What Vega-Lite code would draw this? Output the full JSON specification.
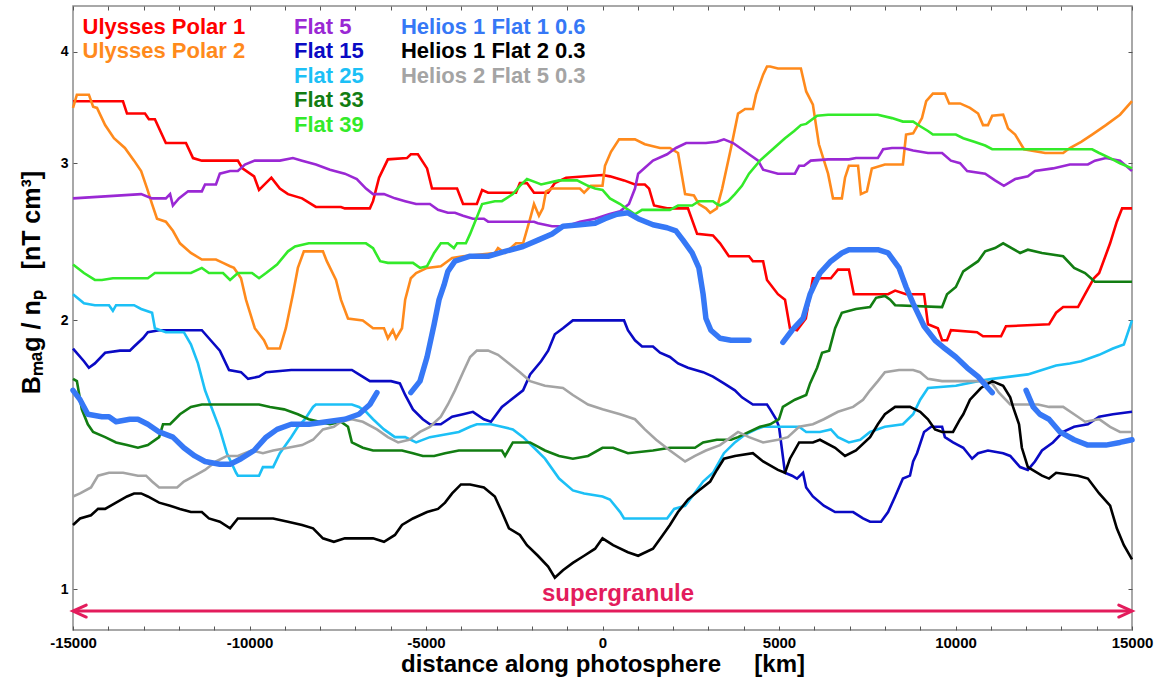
{
  "$schema": "https://vega.github.io/schema/vega-lite/v6.json",
  "width": 1059,
  "height": 624,
  "autosize": {"type": "none"},
  "padding": {"left": 73, "top": 6, "right": 34, "bottom": 52},
  "background": "white",
  "config": {"font": "Liberation Sans", "view": {"stroke": "#8c8c8c", "strokeWidth": 1.5}},
  "datasets": {
    "lines": [
      {"s":"Ulysses Polar 1","x":-15000,"v":3.52},{"s":"Ulysses Polar 1","x":-13584,"v":3.52},{"s":"Ulysses Polar 1","x":-13470,"v":3.41},{"s":"Ulysses Polar 1","x":-12960,"v":3.41},{"s":"Ulysses Polar 1","x":-12850,"v":3.36},{"s":"Ulysses Polar 1","x":-12680,"v":3.36},{"s":"Ulysses Polar 1","x":-12370,"v":3.16},{"s":"Ulysses Polar 1","x":-11800,"v":3.16},{"s":"Ulysses Polar 1","x":-11600,"v":3.04},{"s":"Ulysses Polar 1","x":-11350,"v":3.02},{"s":"Ulysses Polar 1","x":-10330,"v":3.02},{"s":"Ulysses Polar 1","x":-10200,"v":2.96},{"s":"Ulysses Polar 1","x":-9870,"v":2.90},{"s":"Ulysses Polar 1","x":-9730,"v":2.80},{"s":"Ulysses Polar 1","x":-9380,"v":2.89},{"s":"Ulysses Polar 1","x":-9140,"v":2.81},{"s":"Ulysses Polar 1","x":-8910,"v":2.77},{"s":"Ulysses Polar 1","x":-8510,"v":2.74},{"s":"Ulysses Polar 1","x":-8120,"v":2.68},{"s":"Ulysses Polar 1","x":-7410,"v":2.68},{"s":"Ulysses Polar 1","x":-7300,"v":2.67},{"s":"Ulysses Polar 1","x":-6590,"v":2.67},{"s":"Ulysses Polar 1","x":-6500,"v":2.72},{"s":"Ulysses Polar 1","x":-6330,"v":2.89},{"s":"Ulysses Polar 1","x":-6080,"v":3.03},{"s":"Ulysses Polar 1","x":-5540,"v":3.04},{"s":"Ulysses Polar 1","x":-5430,"v":3.07},{"s":"Ulysses Polar 1","x":-5230,"v":3.07},{"s":"Ulysses Polar 1","x":-4970,"v":2.96},{"s":"Ulysses Polar 1","x":-4830,"v":2.81},{"s":"Ulysses Polar 1","x":-4120,"v":2.81},{"s":"Ulysses Polar 1","x":-3950,"v":2.70},{"s":"Ulysses Polar 1","x":-3560,"v":2.70},{"s":"Ulysses Polar 1","x":-3410,"v":2.80},{"s":"Ulysses Polar 1","x":-3240,"v":2.78},{"s":"Ulysses Polar 1","x":-2450,"v":2.78},{"s":"Ulysses Polar 1","x":-2340,"v":2.85},{"s":"Ulysses Polar 1","x":-2140,"v":2.85},{"s":"Ulysses Polar 1","x":-1940,"v":2.78},{"s":"Ulysses Polar 1","x":-1540,"v":2.78},{"s":"Ulysses Polar 1","x":-1350,"v":2.85},{"s":"Ulysses Polar 1","x":-1030,"v":2.89},{"s":"Ulysses Polar 1","x":0,"v":2.91},{"s":"Ulysses Polar 1","x":213,"v":2.90},{"s":"Ulysses Polar 1","x":610,"v":2.87},{"s":"Ulysses Polar 1","x":920,"v":2.84},{"s":"Ulysses Polar 1","x":1200,"v":2.84},{"s":"Ulysses Polar 1","x":1320,"v":2.81},{"s":"Ulysses Polar 1","x":1460,"v":2.69},{"s":"Ulysses Polar 1","x":1830,"v":2.67},{"s":"Ulysses Polar 1","x":2420,"v":2.67},{"s":"Ulysses Polar 1","x":2680,"v":2.50},{"s":"Ulysses Polar 1","x":3130,"v":2.49},{"s":"Ulysses Polar 1","x":3330,"v":2.44},{"s":"Ulysses Polar 1","x":3580,"v":2.36},{"s":"Ulysses Polar 1","x":4150,"v":2.36},{"s":"Ulysses Polar 1","x":4260,"v":2.33},{"s":"Ulysses Polar 1","x":4550,"v":2.33},{"s":"Ulysses Polar 1","x":4660,"v":2.22},{"s":"Ulysses Polar 1","x":4970,"v":2.14},{"s":"Ulysses Polar 1","x":5170,"v":2.11},{"s":"Ulysses Polar 1","x":5310,"v":1.96},{"s":"Ulysses Polar 1","x":5510,"v":1.95},{"s":"Ulysses Polar 1","x":5760,"v":2.01},{"s":"Ulysses Polar 1","x":5960,"v":2.23},{"s":"Ulysses Polar 1","x":6470,"v":2.23},{"s":"Ulysses Polar 1","x":6670,"v":2.28},{"s":"Ulysses Polar 1","x":6980,"v":2.28},{"s":"Ulysses Polar 1","x":7120,"v":2.14},{"s":"Ulysses Polar 1","x":8090,"v":2.14},{"s":"Ulysses Polar 1","x":8290,"v":2.16},{"s":"Ulysses Polar 1","x":8600,"v":2.14},{"s":"Ulysses Polar 1","x":9110,"v":2.14},{"s":"Ulysses Polar 1","x":9220,"v":1.98},{"s":"Ulysses Polar 1","x":9500,"v":1.96},{"s":"Ulysses Polar 1","x":9620,"v":1.90},{"s":"Ulysses Polar 1","x":9760,"v":1.90},{"s":"Ulysses Polar 1","x":9870,"v":1.95},{"s":"Ulysses Polar 1","x":10610,"v":1.94},{"s":"Ulysses Polar 1","x":10780,"v":1.92},{"s":"Ulysses Polar 1","x":11290,"v":1.92},{"s":"Ulysses Polar 1","x":11430,"v":1.97},{"s":"Ulysses Polar 1","x":12650,"v":1.98},{"s":"Ulysses Polar 1","x":12850,"v":2.04},{"s":"Ulysses Polar 1","x":13050,"v":2.07},{"s":"Ulysses Polar 1","x":13470,"v":2.07},{"s":"Ulysses Polar 1","x":13670,"v":2.14},{"s":"Ulysses Polar 1","x":13920,"v":2.23},{"s":"Ulysses Polar 1","x":14070,"v":2.26},{"s":"Ulysses Polar 1","x":14380,"v":2.44},{"s":"Ulysses Polar 1","x":14570,"v":2.58},{"s":"Ulysses Polar 1","x":14720,"v":2.67},{"s":"Ulysses Polar 1","x":15000,"v":2.67},

      {"s":"Ulysses Polar 2","x":-15000,"v":3.46},{"s":"Ulysses Polar 2","x":-14890,"v":3.58},{"s":"Ulysses Polar 2","x":-14550,"v":3.58},{"s":"Ulysses Polar 2","x":-14430,"v":3.47},{"s":"Ulysses Polar 2","x":-14320,"v":3.46},{"s":"Ulysses Polar 2","x":-14090,"v":3.31},{"s":"Ulysses Polar 2","x":-13840,"v":3.20},{"s":"Ulysses Polar 2","x":-13530,"v":3.12},{"s":"Ulysses Polar 2","x":-13270,"v":3.02},{"s":"Ulysses Polar 2","x":-13070,"v":2.94},{"s":"Ulysses Polar 2","x":-12900,"v":2.81},{"s":"Ulysses Polar 2","x":-12760,"v":2.70},{"s":"Ulysses Polar 2","x":-12620,"v":2.60},{"s":"Ulysses Polar 2","x":-12370,"v":2.58},{"s":"Ulysses Polar 2","x":-12170,"v":2.52},{"s":"Ulysses Polar 2","x":-11970,"v":2.44},{"s":"Ulysses Polar 2","x":-11660,"v":2.38},{"s":"Ulysses Polar 2","x":-11350,"v":2.34},{"s":"Ulysses Polar 2","x":-10950,"v":2.34},{"s":"Ulysses Polar 2","x":-10750,"v":2.32},{"s":"Ulysses Polar 2","x":-10550,"v":2.30},{"s":"Ulysses Polar 2","x":-10440,"v":2.29},{"s":"Ulysses Polar 2","x":-10240,"v":2.23},{"s":"Ulysses Polar 2","x":-10100,"v":2.11},{"s":"Ulysses Polar 2","x":-9850,"v":1.96},{"s":"Ulysses Polar 2","x":-9590,"v":1.90},{"s":"Ulysses Polar 2","x":-9480,"v":1.86},{"s":"Ulysses Polar 2","x":-9140,"v":1.86},{"s":"Ulysses Polar 2","x":-8970,"v":1.96},{"s":"Ulysses Polar 2","x":-8770,"v":2.14},{"s":"Ulysses Polar 2","x":-8630,"v":2.29},{"s":"Ulysses Polar 2","x":-8460,"v":2.39},{"s":"Ulysses Polar 2","x":-7920,"v":2.39},{"s":"Ulysses Polar 2","x":-7810,"v":2.33},{"s":"Ulysses Polar 2","x":-7550,"v":2.22},{"s":"Ulysses Polar 2","x":-7410,"v":2.11},{"s":"Ulysses Polar 2","x":-7210,"v":2.01},{"s":"Ulysses Polar 2","x":-6790,"v":2.00},{"s":"Ulysses Polar 2","x":-6500,"v":1.96},{"s":"Ulysses Polar 2","x":-6190,"v":1.96},{"s":"Ulysses Polar 2","x":-6080,"v":1.91},{"s":"Ulysses Polar 2","x":-5940,"v":1.95},{"s":"Ulysses Polar 2","x":-5850,"v":1.91},{"s":"Ulysses Polar 2","x":-5680,"v":1.96},{"s":"Ulysses Polar 2","x":-5590,"v":2.11},{"s":"Ulysses Polar 2","x":-5430,"v":2.23},{"s":"Ulysses Polar 2","x":-5280,"v":2.26},{"s":"Ulysses Polar 2","x":-4970,"v":2.29},{"s":"Ulysses Polar 2","x":-4580,"v":2.30},{"s":"Ulysses Polar 2","x":-4260,"v":2.35},{"s":"Ulysses Polar 2","x":-3950,"v":2.36},{"s":"Ulysses Polar 2","x":-3050,"v":2.38},{"s":"Ulysses Polar 2","x":-2960,"v":2.41},{"s":"Ulysses Polar 2","x":-2760,"v":2.38},{"s":"Ulysses Polar 2","x":-2450,"v":2.44},{"s":"Ulysses Polar 2","x":-2250,"v":2.44},{"s":"Ulysses Polar 2","x":-2050,"v":2.60},{"s":"Ulysses Polar 2","x":-1940,"v":2.70},{"s":"Ulysses Polar 2","x":-1800,"v":2.62},{"s":"Ulysses Polar 2","x":-1690,"v":2.67},{"s":"Ulysses Polar 2","x":-1600,"v":2.79},{"s":"Ulysses Polar 2","x":-1430,"v":2.81},{"s":"Ulysses Polar 2","x":-640,"v":2.81},{"s":"Ulysses Polar 2","x":-520,"v":2.78},{"s":"Ulysses Polar 2","x":-330,"v":2.83},{"s":"Ulysses Polar 2","x":0,"v":2.83},{"s":"Ulysses Polar 2","x":70,"v":2.98},{"s":"Ulysses Polar 2","x":240,"v":3.09},{"s":"Ulysses Polar 2","x":470,"v":3.19},{"s":"Ulysses Polar 2","x":920,"v":3.19},{"s":"Ulysses Polar 2","x":1200,"v":3.15},{"s":"Ulysses Polar 2","x":1630,"v":3.12},{"s":"Ulysses Polar 2","x":1910,"v":3.12},{"s":"Ulysses Polar 2","x":2140,"v":3.08},{"s":"Ulysses Polar 2","x":2340,"v":2.77},{"s":"Ulysses Polar 2","x":2590,"v":2.76},{"s":"Ulysses Polar 2","x":2730,"v":2.70},{"s":"Ulysses Polar 2","x":2930,"v":2.67},{"s":"Ulysses Polar 2","x":3050,"v":2.64},{"s":"Ulysses Polar 2","x":3240,"v":2.67},{"s":"Ulysses Polar 2","x":3390,"v":2.81},{"s":"Ulysses Polar 2","x":3640,"v":3.12},{"s":"Ulysses Polar 2","x":3840,"v":3.41},{"s":"Ulysses Polar 2","x":4040,"v":3.45},{"s":"Ulysses Polar 2","x":4260,"v":3.45},{"s":"Ulysses Polar 2","x":4350,"v":3.58},{"s":"Ulysses Polar 2","x":4550,"v":3.77},{"s":"Ulysses Polar 2","x":4660,"v":3.85},{"s":"Ulysses Polar 2","x":4750,"v":3.85},{"s":"Ulysses Polar 2","x":4970,"v":3.83},{"s":"Ulysses Polar 2","x":5620,"v":3.83},{"s":"Ulysses Polar 2","x":5770,"v":3.61},{"s":"Ulysses Polar 2","x":5960,"v":3.49},{"s":"Ulysses Polar 2","x":6130,"v":3.15},{"s":"Ulysses Polar 2","x":6390,"v":2.92},{"s":"Ulysses Polar 2","x":6530,"v":2.74},{"s":"Ulysses Polar 2","x":6780,"v":2.74},{"s":"Ulysses Polar 2","x":6870,"v":2.89},{"s":"Ulysses Polar 2","x":6980,"v":2.98},{"s":"Ulysses Polar 2","x":7240,"v":2.98},{"s":"Ulysses Polar 2","x":7320,"v":2.77},{"s":"Ulysses Polar 2","x":7490,"v":2.79},{"s":"Ulysses Polar 2","x":7630,"v":2.96},{"s":"Ulysses Polar 2","x":8000,"v":2.99},{"s":"Ulysses Polar 2","x":8510,"v":2.99},{"s":"Ulysses Polar 2","x":8600,"v":3.23},{"s":"Ulysses Polar 2","x":8800,"v":3.24},{"s":"Ulysses Polar 2","x":9050,"v":3.37},{"s":"Ulysses Polar 2","x":9170,"v":3.52},{"s":"Ulysses Polar 2","x":9360,"v":3.59},{"s":"Ulysses Polar 2","x":9700,"v":3.59},{"s":"Ulysses Polar 2","x":9820,"v":3.50},{"s":"Ulysses Polar 2","x":10130,"v":3.50},{"s":"Ulysses Polar 2","x":10410,"v":3.46},{"s":"Ulysses Polar 2","x":10640,"v":3.41},{"s":"Ulysses Polar 2","x":10780,"v":3.31},{"s":"Ulysses Polar 2","x":10920,"v":3.31},{"s":"Ulysses Polar 2","x":11040,"v":3.39},{"s":"Ulysses Polar 2","x":11350,"v":3.40},{"s":"Ulysses Polar 2","x":11490,"v":3.28},{"s":"Ulysses Polar 2","x":11690,"v":3.23},{"s":"Ulysses Polar 2","x":11940,"v":3.11},{"s":"Ulysses Polar 2","x":12540,"v":3.08},{"s":"Ulysses Polar 2","x":13050,"v":3.08},{"s":"Ulysses Polar 2","x":13240,"v":3.12},{"s":"Ulysses Polar 2","x":13560,"v":3.17},{"s":"Ulysses Polar 2","x":13870,"v":3.23},{"s":"Ulysses Polar 2","x":14260,"v":3.31},{"s":"Ulysses Polar 2","x":14660,"v":3.40},{"s":"Ulysses Polar 2","x":15000,"v":3.52},

      {"s":"Flat 5","x":-15000,"v":2.74},{"s":"Flat 5","x":-13070,"v":2.77},{"s":"Flat 5","x":-12760,"v":2.74},{"s":"Flat 5","x":-12370,"v":2.74},{"s":"Flat 5","x":-12250,"v":2.77},{"s":"Flat 5","x":-12170,"v":2.69},{"s":"Flat 5","x":-12000,"v":2.74},{"s":"Flat 5","x":-11740,"v":2.79},{"s":"Flat 5","x":-11350,"v":2.79},{"s":"Flat 5","x":-11260,"v":2.84},{"s":"Flat 5","x":-10950,"v":2.84},{"s":"Flat 5","x":-10840,"v":2.92},{"s":"Flat 5","x":-10550,"v":2.94},{"s":"Flat 5","x":-10330,"v":2.94},{"s":"Flat 5","x":-10130,"v":2.99},{"s":"Flat 5","x":-9850,"v":3.02},{"s":"Flat 5","x":-9140,"v":3.02},{"s":"Flat 5","x":-8770,"v":3.04},{"s":"Flat 5","x":-8510,"v":3.02},{"s":"Flat 5","x":-8120,"v":2.99},{"s":"Flat 5","x":-7720,"v":2.95},{"s":"Flat 5","x":-7300,"v":2.92},{"s":"Flat 5","x":-6960,"v":2.88},{"s":"Flat 5","x":-6700,"v":2.81},{"s":"Flat 5","x":-6500,"v":2.77},{"s":"Flat 5","x":-6190,"v":2.77},{"s":"Flat 5","x":-5880,"v":2.74},{"s":"Flat 5","x":-5590,"v":2.72},{"s":"Flat 5","x":-5280,"v":2.70},{"s":"Flat 5","x":-4890,"v":2.70},{"s":"Flat 5","x":-4660,"v":2.66},{"s":"Flat 5","x":-4380,"v":2.64},{"s":"Flat 5","x":-4180,"v":2.64},{"s":"Flat 5","x":-3950,"v":2.62},{"s":"Flat 5","x":-3670,"v":2.60},{"s":"Flat 5","x":-3360,"v":2.60},{"s":"Flat 5","x":-3240,"v":2.58},{"s":"Flat 5","x":-1940,"v":2.58},{"s":"Flat 5","x":-1830,"v":2.57},{"s":"Flat 5","x":-1430,"v":2.55},{"s":"Flat 5","x":-1030,"v":2.55},{"s":"Flat 5","x":-640,"v":2.58},{"s":"Flat 5","x":-210,"v":2.60},{"s":"Flat 5","x":180,"v":2.63},{"s":"Flat 5","x":500,"v":2.65},{"s":"Flat 5","x":750,"v":2.70},{"s":"Flat 5","x":920,"v":2.81},{"s":"Flat 5","x":1010,"v":2.92},{"s":"Flat 5","x":1430,"v":3.02},{"s":"Flat 5","x":1830,"v":3.07},{"s":"Flat 5","x":2080,"v":3.12},{"s":"Flat 5","x":2370,"v":3.16},{"s":"Flat 5","x":2930,"v":3.16},{"s":"Flat 5","x":3240,"v":3.17},{"s":"Flat 5","x":3440,"v":3.19},{"s":"Flat 5","x":3700,"v":3.16},{"s":"Flat 5","x":3950,"v":3.11},{"s":"Flat 5","x":4150,"v":3.07},{"s":"Flat 5","x":4410,"v":3.02},{"s":"Flat 5","x":4550,"v":2.95},{"s":"Flat 5","x":4970,"v":2.92},{"s":"Flat 5","x":5450,"v":2.92},{"s":"Flat 5","x":5570,"v":2.98},{"s":"Flat 5","x":5710,"v":2.98},{"s":"Flat 5","x":5900,"v":3.02},{"s":"Flat 5","x":6390,"v":3.03},{"s":"Flat 5","x":6980,"v":3.03},{"s":"Flat 5","x":7180,"v":3.04},{"s":"Flat 5","x":7800,"v":3.04},{"s":"Flat 5","x":7950,"v":3.11},{"s":"Flat 5","x":8200,"v":3.12},{"s":"Flat 5","x":8510,"v":3.12},{"s":"Flat 5","x":8800,"v":3.10},{"s":"Flat 5","x":9220,"v":3.08},{"s":"Flat 5","x":9620,"v":3.08},{"s":"Flat 5","x":9870,"v":3.02},{"s":"Flat 5","x":10130,"v":3.00},{"s":"Flat 5","x":10330,"v":2.94},{"s":"Flat 5","x":10840,"v":2.92},{"s":"Flat 5","x":11120,"v":2.87},{"s":"Flat 5","x":11370,"v":2.83},{"s":"Flat 5","x":11690,"v":2.88},{"s":"Flat 5","x":12050,"v":2.90},{"s":"Flat 5","x":12250,"v":2.94},{"s":"Flat 5","x":12760,"v":2.96},{"s":"Flat 5","x":13240,"v":2.99},{"s":"Flat 5","x":13750,"v":2.99},{"s":"Flat 5","x":13950,"v":3.02},{"s":"Flat 5","x":14260,"v":3.04},{"s":"Flat 5","x":14660,"v":3.02},{"s":"Flat 5","x":15000,"v":2.94},

      {"s":"Flat 39","x":-15000,"v":2.31},{"s":"Flat 39","x":-14690,"v":2.26},{"s":"Flat 39","x":-14380,"v":2.22},{"s":"Flat 39","x":-14180,"v":2.22},{"s":"Flat 39","x":-13870,"v":2.23},{"s":"Flat 39","x":-12880,"v":2.23},{"s":"Flat 39","x":-12680,"v":2.26},{"s":"Flat 39","x":-11660,"v":2.26},{"s":"Flat 39","x":-11350,"v":2.29},{"s":"Flat 39","x":-11150,"v":2.26},{"s":"Flat 39","x":-10750,"v":2.26},{"s":"Flat 39","x":-10550,"v":2.22},{"s":"Flat 39","x":-10330,"v":2.26},{"s":"Flat 39","x":-9930,"v":2.26},{"s":"Flat 39","x":-9730,"v":2.23},{"s":"Flat 39","x":-9530,"v":2.26},{"s":"Flat 39","x":-9220,"v":2.31},{"s":"Flat 39","x":-8910,"v":2.39},{"s":"Flat 39","x":-8710,"v":2.42},{"s":"Flat 39","x":-8320,"v":2.44},{"s":"Flat 39","x":-6700,"v":2.44},{"s":"Flat 39","x":-6500,"v":2.41},{"s":"Flat 39","x":-6300,"v":2.33},{"s":"Flat 39","x":-6080,"v":2.32},{"s":"Flat 39","x":-5370,"v":2.32},{"s":"Flat 39","x":-5170,"v":2.29},{"s":"Flat 39","x":-4970,"v":2.30},{"s":"Flat 39","x":-4770,"v":2.38},{"s":"Flat 39","x":-4580,"v":2.44},{"s":"Flat 39","x":-4380,"v":2.44},{"s":"Flat 39","x":-4210,"v":2.41},{"s":"Flat 39","x":-4120,"v":2.44},{"s":"Flat 39","x":-3870,"v":2.44},{"s":"Flat 39","x":-3750,"v":2.50},{"s":"Flat 39","x":-3410,"v":2.70},{"s":"Flat 39","x":-3050,"v":2.72},{"s":"Flat 39","x":-2850,"v":2.72},{"s":"Flat 39","x":-2540,"v":2.77},{"s":"Flat 39","x":-2340,"v":2.83},{"s":"Flat 39","x":-2140,"v":2.88},{"s":"Flat 39","x":-1830,"v":2.85},{"s":"Flat 39","x":-1740,"v":2.84},{"s":"Flat 39","x":-1230,"v":2.87},{"s":"Flat 39","x":-720,"v":2.87},{"s":"Flat 39","x":-410,"v":2.83},{"s":"Flat 39","x":-210,"v":2.81},{"s":"Flat 39","x":0,"v":2.80},{"s":"Flat 39","x":210,"v":2.74},{"s":"Flat 39","x":500,"v":2.70},{"s":"Flat 39","x":670,"v":2.67},{"s":"Flat 39","x":920,"v":2.63},{"s":"Flat 39","x":1120,"v":2.66},{"s":"Flat 39","x":1910,"v":2.66},{"s":"Flat 39","x":2140,"v":2.69},{"s":"Flat 39","x":2540,"v":2.69},{"s":"Flat 39","x":2730,"v":2.72},{"s":"Flat 39","x":3130,"v":2.72},{"s":"Flat 39","x":3240,"v":2.70},{"s":"Flat 39","x":3330,"v":2.69},{"s":"Flat 39","x":3560,"v":2.72},{"s":"Flat 39","x":3750,"v":2.77},{"s":"Flat 39","x":3950,"v":2.83},{"s":"Flat 39","x":4150,"v":2.92},{"s":"Flat 39","x":4460,"v":3.02},{"s":"Flat 39","x":4860,"v":3.12},{"s":"Flat 39","x":5170,"v":3.20},{"s":"Flat 39","x":5430,"v":3.26},{"s":"Flat 39","x":5620,"v":3.31},{"s":"Flat 39","x":5770,"v":3.32},{"s":"Flat 39","x":6080,"v":3.39},{"s":"Flat 39","x":6390,"v":3.40},{"s":"Flat 39","x":7800,"v":3.40},{"s":"Flat 39","x":8200,"v":3.37},{"s":"Flat 39","x":8510,"v":3.34},{"s":"Flat 39","x":8800,"v":3.34},{"s":"Flat 39","x":9000,"v":3.30},{"s":"Flat 39","x":9220,"v":3.26},{"s":"Flat 39","x":9360,"v":3.23},{"s":"Flat 39","x":10010,"v":3.23},{"s":"Flat 39","x":10220,"v":3.20},{"s":"Flat 39","x":10530,"v":3.17},{"s":"Flat 39","x":10840,"v":3.14},{"s":"Flat 39","x":11040,"v":3.11},{"s":"Flat 39","x":13870,"v":3.11},{"s":"Flat 39","x":14070,"v":3.08},{"s":"Flat 39","x":14380,"v":3.04},{"s":"Flat 39","x":14660,"v":3.00},{"s":"Flat 39","x":15000,"v":2.96},

      {"s":"Flat 15","x":-15000,"v":1.86},{"s":"Flat 15","x":-14690,"v":1.80},{"s":"Flat 15","x":-14550,"v":1.77},{"s":"Flat 15","x":-14380,"v":1.79},{"s":"Flat 15","x":-14090,"v":1.84},{"s":"Flat 15","x":-13670,"v":1.85},{"s":"Flat 15","x":-13390,"v":1.85},{"s":"Flat 15","x":-13270,"v":1.87},{"s":"Flat 15","x":-13020,"v":1.91},{"s":"Flat 15","x":-12880,"v":1.94},{"s":"Flat 15","x":-12560,"v":1.95},{"s":"Flat 15","x":-11350,"v":1.95},{"s":"Flat 15","x":-11150,"v":1.91},{"s":"Flat 15","x":-10840,"v":1.85},{"s":"Flat 15","x":-10580,"v":1.76},{"s":"Flat 15","x":-10240,"v":1.75},{"s":"Flat 15","x":-10040,"v":1.72},{"s":"Flat 15","x":-9730,"v":1.73},{"s":"Flat 15","x":-9530,"v":1.75},{"s":"Flat 15","x":-8820,"v":1.76},{"s":"Flat 15","x":-7100,"v":1.76},{"s":"Flat 15","x":-6900,"v":1.74},{"s":"Flat 15","x":-6590,"v":1.71},{"s":"Flat 15","x":-6190,"v":1.71},{"s":"Flat 15","x":-5990,"v":1.71},{"s":"Flat 15","x":-5740,"v":1.70},{"s":"Flat 15","x":-5590,"v":1.65},{"s":"Flat 15","x":-5370,"v":1.59},{"s":"Flat 15","x":-5090,"v":1.55},{"s":"Flat 15","x":-4890,"v":1.53},{"s":"Flat 15","x":-4580,"v":1.53},{"s":"Flat 15","x":-4260,"v":1.56},{"s":"Flat 15","x":-3950,"v":1.57},{"s":"Flat 15","x":-3670,"v":1.58},{"s":"Flat 15","x":-3360,"v":1.55},{"s":"Flat 15","x":-3160,"v":1.54},{"s":"Flat 15","x":-2850,"v":1.60},{"s":"Flat 15","x":-2250,"v":1.67},{"s":"Flat 15","x":-2050,"v":1.74},{"s":"Flat 15","x":-1740,"v":1.80},{"s":"Flat 15","x":-1540,"v":1.85},{"s":"Flat 15","x":-1350,"v":1.93},{"s":"Flat 15","x":-1120,"v":1.96},{"s":"Flat 15","x":-840,"v":2.00},{"s":"Flat 15","x":610,"v":2.00},{"s":"Flat 15","x":720,"v":1.95},{"s":"Flat 15","x":920,"v":1.90},{"s":"Flat 15","x":1120,"v":1.87},{"s":"Flat 15","x":1430,"v":1.87},{"s":"Flat 15","x":1630,"v":1.84},{"s":"Flat 15","x":1910,"v":1.82},{"s":"Flat 15","x":2140,"v":1.79},{"s":"Flat 15","x":2420,"v":1.77},{"s":"Flat 15","x":2850,"v":1.75},{"s":"Flat 15","x":3130,"v":1.73},{"s":"Flat 15","x":3440,"v":1.70},{"s":"Flat 15","x":3750,"v":1.67},{"s":"Flat 15","x":3950,"v":1.64},{"s":"Flat 15","x":4260,"v":1.61},{"s":"Flat 15","x":4660,"v":1.61},{"s":"Flat 15","x":4750,"v":1.59},{"s":"Flat 15","x":4920,"v":1.55},{"s":"Flat 15","x":5000,"v":1.52},{"s":"Flat 15","x":5170,"v":1.35},{"s":"Flat 15","x":5370,"v":1.34},{"s":"Flat 15","x":5510,"v":1.33},{"s":"Flat 15","x":5680,"v":1.35},{"s":"Flat 15","x":5770,"v":1.30},{"s":"Flat 15","x":5960,"v":1.27},{"s":"Flat 15","x":6270,"v":1.24},{"s":"Flat 15","x":6590,"v":1.22},{"s":"Flat 15","x":6980,"v":1.22},{"s":"Flat 15","x":7100,"v":1.22},{"s":"Flat 15","x":7380,"v":1.20},{"s":"Flat 15","x":7580,"v":1.19},{"s":"Flat 15","x":7890,"v":1.19},{"s":"Flat 15","x":8090,"v":1.22},{"s":"Flat 15","x":8290,"v":1.27},{"s":"Flat 15","x":8510,"v":1.33},{"s":"Flat 15","x":8710,"v":1.34},{"s":"Flat 15","x":8800,"v":1.39},{"s":"Flat 15","x":8910,"v":1.42},{"s":"Flat 15","x":9110,"v":1.50},{"s":"Flat 15","x":9310,"v":1.52},{"s":"Flat 15","x":9620,"v":1.52},{"s":"Flat 15","x":9700,"v":1.48},{"s":"Flat 15","x":9930,"v":1.46},{"s":"Flat 15","x":10220,"v":1.44},{"s":"Flat 15","x":10470,"v":1.40},{"s":"Flat 15","x":10640,"v":1.42},{"s":"Flat 15","x":10920,"v":1.43},{"s":"Flat 15","x":11350,"v":1.42},{"s":"Flat 15","x":11550,"v":1.41},{"s":"Flat 15","x":11830,"v":1.37},{"s":"Flat 15","x":12050,"v":1.36},{"s":"Flat 15","x":12250,"v":1.39},{"s":"Flat 15","x":12450,"v":1.43},{"s":"Flat 15","x":12760,"v":1.46},{"s":"Flat 15","x":13050,"v":1.50},{"s":"Flat 15","x":13360,"v":1.52},{"s":"Flat 15","x":13750,"v":1.53},{"s":"Flat 15","x":14070,"v":1.56},{"s":"Flat 15","x":14460,"v":1.57},{"s":"Flat 15","x":15000,"v":1.58},

      {"s":"Flat 25","x":-15000,"v":2.14},{"s":"Flat 25","x":-14690,"v":2.09},{"s":"Flat 25","x":-14380,"v":2.08},{"s":"Flat 25","x":-13980,"v":2.08},{"s":"Flat 25","x":-13870,"v":2.05},{"s":"Flat 25","x":-13780,"v":2.08},{"s":"Flat 25","x":-13270,"v":2.08},{"s":"Flat 25","x":-13070,"v":2.06},{"s":"Flat 25","x":-12760,"v":2.04},{"s":"Flat 25","x":-12680,"v":1.96},{"s":"Flat 25","x":-12370,"v":1.94},{"s":"Flat 25","x":-11860,"v":1.94},{"s":"Flat 25","x":-11660,"v":1.88},{"s":"Flat 25","x":-11460,"v":1.79},{"s":"Flat 25","x":-11260,"v":1.67},{"s":"Flat 25","x":-11030,"v":1.58},{"s":"Flat 25","x":-10840,"v":1.51},{"s":"Flat 25","x":-10640,"v":1.42},{"s":"Flat 25","x":-10380,"v":1.35},{"s":"Flat 25","x":-10330,"v":1.34},{"s":"Flat 25","x":-9730,"v":1.34},{"s":"Flat 25","x":-9620,"v":1.37},{"s":"Flat 25","x":-9330,"v":1.37},{"s":"Flat 25","x":-9140,"v":1.42},{"s":"Flat 25","x":-8820,"v":1.48},{"s":"Flat 25","x":-8630,"v":1.52},{"s":"Flat 25","x":-8430,"v":1.55},{"s":"Flat 25","x":-8200,"v":1.60},{"s":"Flat 25","x":-8120,"v":1.61},{"s":"Flat 25","x":-7100,"v":1.61},{"s":"Flat 25","x":-6900,"v":1.60},{"s":"Flat 25","x":-6700,"v":1.58},{"s":"Flat 25","x":-6500,"v":1.55},{"s":"Flat 25","x":-6190,"v":1.51},{"s":"Flat 25","x":-5880,"v":1.48},{"s":"Flat 25","x":-5590,"v":1.48},{"s":"Flat 25","x":-5280,"v":1.46},{"s":"Flat 25","x":-4890,"v":1.48},{"s":"Flat 25","x":-4460,"v":1.49},{"s":"Flat 25","x":-4070,"v":1.50},{"s":"Flat 25","x":-3750,"v":1.52},{"s":"Flat 25","x":-3560,"v":1.53},{"s":"Flat 25","x":-3160,"v":1.53},{"s":"Flat 25","x":-2850,"v":1.52},{"s":"Flat 25","x":-2540,"v":1.51},{"s":"Flat 25","x":-2250,"v":1.48},{"s":"Flat 25","x":-1940,"v":1.44},{"s":"Flat 25","x":-1630,"v":1.40},{"s":"Flat 25","x":-1230,"v":1.33},{"s":"Flat 25","x":-840,"v":1.29},{"s":"Flat 25","x":-520,"v":1.28},{"s":"Flat 25","x":0,"v":1.27},{"s":"Flat 25","x":210,"v":1.26},{"s":"Flat 25","x":500,"v":1.22},{"s":"Flat 25","x":610,"v":1.20},{"s":"Flat 25","x":1830,"v":1.20},{"s":"Flat 25","x":2030,"v":1.23},{"s":"Flat 25","x":2340,"v":1.24},{"s":"Flat 25","x":2540,"v":1.27},{"s":"Flat 25","x":2850,"v":1.32},{"s":"Flat 25","x":3130,"v":1.35},{"s":"Flat 25","x":3440,"v":1.42},{"s":"Flat 25","x":3750,"v":1.46},{"s":"Flat 25","x":4040,"v":1.49},{"s":"Flat 25","x":4350,"v":1.51},{"s":"Flat 25","x":4550,"v":1.52},{"s":"Flat 25","x":5570,"v":1.52},{"s":"Flat 25","x":5770,"v":1.50},{"s":"Flat 25","x":6160,"v":1.50},{"s":"Flat 25","x":6470,"v":1.51},{"s":"Flat 25","x":6670,"v":1.48},{"s":"Flat 25","x":6980,"v":1.46},{"s":"Flat 25","x":7300,"v":1.47},{"s":"Flat 25","x":7580,"v":1.50},{"s":"Flat 25","x":8000,"v":1.52},{"s":"Flat 25","x":8510,"v":1.53},{"s":"Flat 25","x":8800,"v":1.57},{"s":"Flat 25","x":9000,"v":1.63},{"s":"Flat 25","x":9220,"v":1.68},{"s":"Flat 25","x":10010,"v":1.69},{"s":"Flat 25","x":10640,"v":1.71},{"s":"Flat 25","x":11040,"v":1.72},{"s":"Flat 25","x":11550,"v":1.73},{"s":"Flat 25","x":12050,"v":1.74},{"s":"Flat 25","x":12450,"v":1.76},{"s":"Flat 25","x":12850,"v":1.78},{"s":"Flat 25","x":13240,"v":1.79},{"s":"Flat 25","x":13560,"v":1.80},{"s":"Flat 25","x":14070,"v":1.83},{"s":"Flat 25","x":14460,"v":1.86},{"s":"Flat 25","x":14770,"v":1.88},{"s":"Flat 25","x":15000,"v":2.00},

      {"s":"Flat 33","x":-15000,"v":1.72},{"s":"Flat 33","x":-14890,"v":1.71},{"s":"Flat 33","x":-14750,"v":1.59},{"s":"Flat 33","x":-14580,"v":1.53},{"s":"Flat 33","x":-14430,"v":1.50},{"s":"Flat 33","x":-14090,"v":1.48},{"s":"Flat 33","x":-13780,"v":1.46},{"s":"Flat 33","x":-13470,"v":1.45},{"s":"Flat 33","x":-13160,"v":1.44},{"s":"Flat 33","x":-12880,"v":1.45},{"s":"Flat 33","x":-12560,"v":1.48},{"s":"Flat 33","x":-12450,"v":1.53},{"s":"Flat 33","x":-12250,"v":1.53},{"s":"Flat 33","x":-11970,"v":1.57},{"s":"Flat 33","x":-11660,"v":1.60},{"s":"Flat 33","x":-11350,"v":1.61},{"s":"Flat 33","x":-9730,"v":1.61},{"s":"Flat 33","x":-9420,"v":1.60},{"s":"Flat 33","x":-9020,"v":1.59},{"s":"Flat 33","x":-8630,"v":1.57},{"s":"Flat 33","x":-8320,"v":1.55},{"s":"Flat 33","x":-7720,"v":1.53},{"s":"Flat 33","x":-7410,"v":1.54},{"s":"Flat 33","x":-7210,"v":1.52},{"s":"Flat 33","x":-7100,"v":1.46},{"s":"Flat 33","x":-6790,"v":1.44},{"s":"Flat 33","x":-6500,"v":1.43},{"s":"Flat 33","x":-5680,"v":1.43},{"s":"Flat 33","x":-5370,"v":1.42},{"s":"Flat 33","x":-5090,"v":1.41},{"s":"Flat 33","x":-4770,"v":1.41},{"s":"Flat 33","x":-4460,"v":1.42},{"s":"Flat 33","x":-4070,"v":1.43},{"s":"Flat 33","x":-3050,"v":1.43},{"s":"Flat 33","x":-2850,"v":1.43},{"s":"Flat 33","x":-2760,"v":1.41},{"s":"Flat 33","x":-2540,"v":1.46},{"s":"Flat 33","x":-2050,"v":1.46},{"s":"Flat 33","x":-1630,"v":1.43},{"s":"Flat 33","x":-1230,"v":1.41},{"s":"Flat 33","x":-840,"v":1.40},{"s":"Flat 33","x":-410,"v":1.41},{"s":"Flat 33","x":0,"v":1.44},{"s":"Flat 33","x":300,"v":1.44},{"s":"Flat 33","x":720,"v":1.42},{"s":"Flat 33","x":1430,"v":1.43},{"s":"Flat 33","x":1910,"v":1.44},{"s":"Flat 33","x":2620,"v":1.44},{"s":"Flat 33","x":2850,"v":1.46},{"s":"Flat 33","x":3240,"v":1.47},{"s":"Flat 33","x":3640,"v":1.47},{"s":"Flat 33","x":3840,"v":1.48},{"s":"Flat 33","x":4150,"v":1.50},{"s":"Flat 33","x":4460,"v":1.52},{"s":"Flat 33","x":4750,"v":1.53},{"s":"Flat 33","x":5000,"v":1.55},{"s":"Flat 33","x":5110,"v":1.60},{"s":"Flat 33","x":5450,"v":1.63},{"s":"Flat 33","x":5770,"v":1.65},{"s":"Flat 33","x":5880,"v":1.70},{"s":"Flat 33","x":6080,"v":1.77},{"s":"Flat 33","x":6220,"v":1.84},{"s":"Flat 33","x":6420,"v":1.85},{"s":"Flat 33","x":6590,"v":1.96},{"s":"Flat 33","x":6780,"v":2.04},{"s":"Flat 33","x":7180,"v":2.06},{"s":"Flat 33","x":7580,"v":2.07},{"s":"Flat 33","x":7750,"v":2.12},{"s":"Flat 33","x":8000,"v":2.13},{"s":"Flat 33","x":8150,"v":2.11},{"s":"Flat 33","x":8290,"v":2.08},{"s":"Flat 33","x":9620,"v":2.07},{"s":"Flat 33","x":9760,"v":2.14},{"s":"Flat 33","x":10010,"v":2.18},{"s":"Flat 33","x":10220,"v":2.27},{"s":"Flat 33","x":10640,"v":2.33},{"s":"Flat 33","x":10840,"v":2.39},{"s":"Flat 33","x":11120,"v":2.41},{"s":"Flat 33","x":11350,"v":2.44},{"s":"Flat 33","x":11830,"v":2.38},{"s":"Flat 33","x":12050,"v":2.40},{"s":"Flat 33","x":12450,"v":2.38},{"s":"Flat 33","x":13050,"v":2.36},{"s":"Flat 33","x":13360,"v":2.29},{"s":"Flat 33","x":13670,"v":2.26},{"s":"Flat 33","x":13950,"v":2.21},{"s":"Flat 33","x":15000,"v":2.21},

      {"s":"Helios 2 Flat 5 0.3","x":-15000,"v":1.27},{"s":"Helios 2 Flat 5 0.3","x":-14800,"v":1.28},{"s":"Helios 2 Flat 5 0.3","x":-14490,"v":1.30},{"s":"Helios 2 Flat 5 0.3","x":-14290,"v":1.34},{"s":"Helios 2 Flat 5 0.3","x":-13980,"v":1.35},{"s":"Helios 2 Flat 5 0.3","x":-13580,"v":1.35},{"s":"Helios 2 Flat 5 0.3","x":-13160,"v":1.34},{"s":"Helios 2 Flat 5 0.3","x":-12930,"v":1.34},{"s":"Helios 2 Flat 5 0.3","x":-12760,"v":1.32},{"s":"Helios 2 Flat 5 0.3","x":-12560,"v":1.30},{"s":"Helios 2 Flat 5 0.3","x":-12050,"v":1.30},{"s":"Helios 2 Flat 5 0.3","x":-11860,"v":1.32},{"s":"Helios 2 Flat 5 0.3","x":-11550,"v":1.34},{"s":"Helios 2 Flat 5 0.3","x":-11260,"v":1.36},{"s":"Helios 2 Flat 5 0.3","x":-10950,"v":1.39},{"s":"Helios 2 Flat 5 0.3","x":-10640,"v":1.41},{"s":"Helios 2 Flat 5 0.3","x":-10330,"v":1.41},{"s":"Helios 2 Flat 5 0.3","x":-9930,"v":1.43},{"s":"Helios 2 Flat 5 0.3","x":-9620,"v":1.42},{"s":"Helios 2 Flat 5 0.3","x":-9330,"v":1.43},{"s":"Helios 2 Flat 5 0.3","x":-8910,"v":1.44},{"s":"Helios 2 Flat 5 0.3","x":-8510,"v":1.45},{"s":"Helios 2 Flat 5 0.3","x":-8200,"v":1.47},{"s":"Helios 2 Flat 5 0.3","x":-7920,"v":1.51},{"s":"Helios 2 Flat 5 0.3","x":-7610,"v":1.52},{"s":"Helios 2 Flat 5 0.3","x":-7410,"v":1.54},{"s":"Helios 2 Flat 5 0.3","x":-7100,"v":1.55},{"s":"Helios 2 Flat 5 0.3","x":-6790,"v":1.54},{"s":"Helios 2 Flat 5 0.3","x":-6390,"v":1.51},{"s":"Helios 2 Flat 5 0.3","x":-6080,"v":1.48},{"s":"Helios 2 Flat 5 0.3","x":-5790,"v":1.46},{"s":"Helios 2 Flat 5 0.3","x":-5480,"v":1.47},{"s":"Helios 2 Flat 5 0.3","x":-5170,"v":1.50},{"s":"Helios 2 Flat 5 0.3","x":-4890,"v":1.52},{"s":"Helios 2 Flat 5 0.3","x":-4580,"v":1.56},{"s":"Helios 2 Flat 5 0.3","x":-4380,"v":1.61},{"s":"Helios 2 Flat 5 0.3","x":-4180,"v":1.67},{"s":"Helios 2 Flat 5 0.3","x":-3950,"v":1.75},{"s":"Helios 2 Flat 5 0.3","x":-3750,"v":1.82},{"s":"Helios 2 Flat 5 0.3","x":-3560,"v":1.85},{"s":"Helios 2 Flat 5 0.3","x":-3240,"v":1.85},{"s":"Helios 2 Flat 5 0.3","x":-2960,"v":1.83},{"s":"Helios 2 Flat 5 0.3","x":-2650,"v":1.79},{"s":"Helios 2 Flat 5 0.3","x":-2340,"v":1.75},{"s":"Helios 2 Flat 5 0.3","x":-2050,"v":1.71},{"s":"Helios 2 Flat 5 0.3","x":-1630,"v":1.69},{"s":"Helios 2 Flat 5 0.3","x":-1120,"v":1.68},{"s":"Helios 2 Flat 5 0.3","x":-840,"v":1.65},{"s":"Helios 2 Flat 5 0.3","x":-410,"v":1.61},{"s":"Helios 2 Flat 5 0.3","x":0,"v":1.59},{"s":"Helios 2 Flat 5 0.3","x":500,"v":1.57},{"s":"Helios 2 Flat 5 0.3","x":920,"v":1.55},{"s":"Helios 2 Flat 5 0.3","x":1200,"v":1.51},{"s":"Helios 2 Flat 5 0.3","x":1520,"v":1.47},{"s":"Helios 2 Flat 5 0.3","x":1910,"v":1.43},{"s":"Helios 2 Flat 5 0.3","x":2340,"v":1.39},{"s":"Helios 2 Flat 5 0.3","x":2620,"v":1.41},{"s":"Helios 2 Flat 5 0.3","x":2930,"v":1.43},{"s":"Helios 2 Flat 5 0.3","x":3330,"v":1.45},{"s":"Helios 2 Flat 5 0.3","x":3640,"v":1.48},{"s":"Helios 2 Flat 5 0.3","x":3840,"v":1.50},{"s":"Helios 2 Flat 5 0.3","x":4150,"v":1.48},{"s":"Helios 2 Flat 5 0.3","x":4550,"v":1.46},{"s":"Helios 2 Flat 5 0.3","x":4970,"v":1.47},{"s":"Helios 2 Flat 5 0.3","x":5250,"v":1.48},{"s":"Helios 2 Flat 5 0.3","x":5570,"v":1.52},{"s":"Helios 2 Flat 5 0.3","x":5960,"v":1.53},{"s":"Helios 2 Flat 5 0.3","x":6270,"v":1.55},{"s":"Helios 2 Flat 5 0.3","x":6670,"v":1.58},{"s":"Helios 2 Flat 5 0.3","x":7100,"v":1.60},{"s":"Helios 2 Flat 5 0.3","x":7380,"v":1.63},{"s":"Helios 2 Flat 5 0.3","x":7580,"v":1.67},{"s":"Helios 2 Flat 5 0.3","x":7800,"v":1.71},{"s":"Helios 2 Flat 5 0.3","x":8000,"v":1.75},{"s":"Helios 2 Flat 5 0.3","x":8400,"v":1.76},{"s":"Helios 2 Flat 5 0.3","x":8800,"v":1.76},{"s":"Helios 2 Flat 5 0.3","x":9000,"v":1.75},{"s":"Helios 2 Flat 5 0.3","x":9220,"v":1.72},{"s":"Helios 2 Flat 5 0.3","x":9620,"v":1.71},{"s":"Helios 2 Flat 5 0.3","x":10840,"v":1.71},{"s":"Helios 2 Flat 5 0.3","x":11040,"v":1.70},{"s":"Helios 2 Flat 5 0.3","x":11230,"v":1.66},{"s":"Helios 2 Flat 5 0.3","x":11550,"v":1.61},{"s":"Helios 2 Flat 5 0.3","x":12050,"v":1.61},{"s":"Helios 2 Flat 5 0.3","x":12340,"v":1.61},{"s":"Helios 2 Flat 5 0.3","x":12650,"v":1.60},{"s":"Helios 2 Flat 5 0.3","x":13050,"v":1.60},{"s":"Helios 2 Flat 5 0.3","x":13360,"v":1.57},{"s":"Helios 2 Flat 5 0.3","x":13670,"v":1.54},{"s":"Helios 2 Flat 5 0.3","x":14070,"v":1.55},{"s":"Helios 2 Flat 5 0.3","x":14380,"v":1.52},{"s":"Helios 2 Flat 5 0.3","x":14660,"v":1.50},{"s":"Helios 2 Flat 5 0.3","x":15000,"v":1.50},

      {"s":"Helios 1 Flat 2 0.3","x":-15000,"v":1.18},{"s":"Helios 1 Flat 2 0.3","x":-14800,"v":1.20},{"s":"Helios 1 Flat 2 0.3","x":-14490,"v":1.21},{"s":"Helios 1 Flat 2 0.3","x":-14290,"v":1.23},{"s":"Helios 1 Flat 2 0.3","x":-14090,"v":1.23},{"s":"Helios 1 Flat 2 0.3","x":-13780,"v":1.25},{"s":"Helios 1 Flat 2 0.3","x":-13470,"v":1.27},{"s":"Helios 1 Flat 2 0.3","x":-13270,"v":1.28},{"s":"Helios 1 Flat 2 0.3","x":-13070,"v":1.28},{"s":"Helios 1 Flat 2 0.3","x":-12880,"v":1.27},{"s":"Helios 1 Flat 2 0.3","x":-12560,"v":1.25},{"s":"Helios 1 Flat 2 0.3","x":-12250,"v":1.24},{"s":"Helios 1 Flat 2 0.3","x":-11970,"v":1.23},{"s":"Helios 1 Flat 2 0.3","x":-11660,"v":1.22},{"s":"Helios 1 Flat 2 0.3","x":-11350,"v":1.22},{"s":"Helios 1 Flat 2 0.3","x":-11150,"v":1.20},{"s":"Helios 1 Flat 2 0.3","x":-10840,"v":1.19},{"s":"Helios 1 Flat 2 0.3","x":-10550,"v":1.17},{"s":"Helios 1 Flat 2 0.3","x":-10330,"v":1.20},{"s":"Helios 1 Flat 2 0.3","x":-10040,"v":1.20},{"s":"Helios 1 Flat 2 0.3","x":-9620,"v":1.20},{"s":"Helios 1 Flat 2 0.3","x":-9330,"v":1.20},{"s":"Helios 1 Flat 2 0.3","x":-8910,"v":1.19},{"s":"Helios 1 Flat 2 0.3","x":-8510,"v":1.18},{"s":"Helios 1 Flat 2 0.3","x":-8200,"v":1.17},{"s":"Helios 1 Flat 2 0.3","x":-7920,"v":1.14},{"s":"Helios 1 Flat 2 0.3","x":-7610,"v":1.13},{"s":"Helios 1 Flat 2 0.3","x":-7300,"v":1.14},{"s":"Helios 1 Flat 2 0.3","x":-6500,"v":1.14},{"s":"Helios 1 Flat 2 0.3","x":-6190,"v":1.13},{"s":"Helios 1 Flat 2 0.3","x":-5880,"v":1.15},{"s":"Helios 1 Flat 2 0.3","x":-5680,"v":1.18},{"s":"Helios 1 Flat 2 0.3","x":-5370,"v":1.20},{"s":"Helios 1 Flat 2 0.3","x":-4970,"v":1.22},{"s":"Helios 1 Flat 2 0.3","x":-4660,"v":1.23},{"s":"Helios 1 Flat 2 0.3","x":-4460,"v":1.25},{"s":"Helios 1 Flat 2 0.3","x":-4260,"v":1.28},{"s":"Helios 1 Flat 2 0.3","x":-4010,"v":1.31},{"s":"Helios 1 Flat 2 0.3","x":-3750,"v":1.31},{"s":"Helios 1 Flat 2 0.3","x":-3360,"v":1.30},{"s":"Helios 1 Flat 2 0.3","x":-3050,"v":1.27},{"s":"Helios 1 Flat 2 0.3","x":-2850,"v":1.22},{"s":"Helios 1 Flat 2 0.3","x":-2650,"v":1.17},{"s":"Helios 1 Flat 2 0.3","x":-2340,"v":1.15},{"s":"Helios 1 Flat 2 0.3","x":-2140,"v":1.12},{"s":"Helios 1 Flat 2 0.3","x":-1830,"v":1.09},{"s":"Helios 1 Flat 2 0.3","x":-1540,"v":1.06},{"s":"Helios 1 Flat 2 0.3","x":-1350,"v":1.03},{"s":"Helios 1 Flat 2 0.3","x":-1120,"v":1.05},{"s":"Helios 1 Flat 2 0.3","x":-840,"v":1.07},{"s":"Helios 1 Flat 2 0.3","x":-520,"v":1.09},{"s":"Helios 1 Flat 2 0.3","x":-210,"v":1.11},{"s":"Helios 1 Flat 2 0.3","x":0,"v":1.14},{"s":"Helios 1 Flat 2 0.3","x":300,"v":1.12},{"s":"Helios 1 Flat 2 0.3","x":720,"v":1.10},{"s":"Helios 1 Flat 2 0.3","x":1010,"v":1.09},{"s":"Helios 1 Flat 2 0.3","x":1430,"v":1.11},{"s":"Helios 1 Flat 2 0.3","x":1710,"v":1.15},{"s":"Helios 1 Flat 2 0.3","x":1910,"v":1.18},{"s":"Helios 1 Flat 2 0.3","x":2140,"v":1.22},{"s":"Helios 1 Flat 2 0.3","x":2420,"v":1.26},{"s":"Helios 1 Flat 2 0.3","x":2730,"v":1.29},{"s":"Helios 1 Flat 2 0.3","x":3050,"v":1.32},{"s":"Helios 1 Flat 2 0.3","x":3240,"v":1.36},{"s":"Helios 1 Flat 2 0.3","x":3440,"v":1.40},{"s":"Helios 1 Flat 2 0.3","x":3750,"v":1.41},{"s":"Helios 1 Flat 2 0.3","x":4260,"v":1.42},{"s":"Helios 1 Flat 2 0.3","x":4550,"v":1.39},{"s":"Helios 1 Flat 2 0.3","x":4970,"v":1.36},{"s":"Helios 1 Flat 2 0.3","x":5170,"v":1.35},{"s":"Helios 1 Flat 2 0.3","x":5310,"v":1.40},{"s":"Helios 1 Flat 2 0.3","x":5570,"v":1.46},{"s":"Helios 1 Flat 2 0.3","x":5960,"v":1.46},{"s":"Helios 1 Flat 2 0.3","x":6160,"v":1.47},{"s":"Helios 1 Flat 2 0.3","x":6590,"v":1.44},{"s":"Helios 1 Flat 2 0.3","x":6870,"v":1.41},{"s":"Helios 1 Flat 2 0.3","x":7180,"v":1.43},{"s":"Helios 1 Flat 2 0.3","x":7580,"v":1.48},{"s":"Helios 1 Flat 2 0.3","x":7800,"v":1.53},{"s":"Helios 1 Flat 2 0.3","x":8000,"v":1.57},{"s":"Helios 1 Flat 2 0.3","x":8290,"v":1.60},{"s":"Helios 1 Flat 2 0.3","x":8710,"v":1.60},{"s":"Helios 1 Flat 2 0.3","x":9000,"v":1.58},{"s":"Helios 1 Flat 2 0.3","x":9220,"v":1.55},{"s":"Helios 1 Flat 2 0.3","x":9420,"v":1.51},{"s":"Helios 1 Flat 2 0.3","x":9620,"v":1.50},{"s":"Helios 1 Flat 2 0.3","x":9930,"v":1.50},{"s":"Helios 1 Flat 2 0.3","x":10130,"v":1.55},{"s":"Helios 1 Flat 2 0.3","x":10220,"v":1.57},{"s":"Helios 1 Flat 2 0.3","x":10410,"v":1.63},{"s":"Helios 1 Flat 2 0.3","x":10720,"v":1.68},{"s":"Helios 1 Flat 2 0.3","x":11040,"v":1.71},{"s":"Helios 1 Flat 2 0.3","x":11350,"v":1.69},{"s":"Helios 1 Flat 2 0.3","x":11550,"v":1.64},{"s":"Helios 1 Flat 2 0.3","x":11630,"v":1.60},{"s":"Helios 1 Flat 2 0.3","x":11800,"v":1.53},{"s":"Helios 1 Flat 2 0.3","x":11880,"v":1.44},{"s":"Helios 1 Flat 2 0.3","x":12050,"v":1.37},{"s":"Helios 1 Flat 2 0.3","x":12450,"v":1.34},{"s":"Helios 1 Flat 2 0.3","x":12650,"v":1.33},{"s":"Helios 1 Flat 2 0.3","x":12850,"v":1.35},{"s":"Helios 1 Flat 2 0.3","x":13470,"v":1.34},{"s":"Helios 1 Flat 2 0.3","x":13750,"v":1.33},{"s":"Helios 1 Flat 2 0.3","x":14070,"v":1.28},{"s":"Helios 1 Flat 2 0.3","x":14380,"v":1.24},{"s":"Helios 1 Flat 2 0.3","x":14570,"v":1.17},{"s":"Helios 1 Flat 2 0.3","x":14770,"v":1.12},{"s":"Helios 1 Flat 2 0.3","x":15000,"v":1.08},

      {"s":"Helios 1 Flat 1 0.6","g":1,"x":-15000,"v":1.67},{"s":"Helios 1 Flat 1 0.6","g":1,"x":-14800,"v":1.63},{"s":"Helios 1 Flat 1 0.6","g":1,"x":-14580,"v":1.57},{"s":"Helios 1 Flat 1 0.6","g":1,"x":-14180,"v":1.56},{"s":"Helios 1 Flat 1 0.6","g":1,"x":-13980,"v":1.56},{"s":"Helios 1 Flat 1 0.6","g":1,"x":-13780,"v":1.54},{"s":"Helios 1 Flat 1 0.6","g":1,"x":-13390,"v":1.55},{"s":"Helios 1 Flat 1 0.6","g":1,"x":-13160,"v":1.55},{"s":"Helios 1 Flat 1 0.6","g":1,"x":-12880,"v":1.53},{"s":"Helios 1 Flat 1 0.6","g":1,"x":-12560,"v":1.50},{"s":"Helios 1 Flat 1 0.6","g":1,"x":-12170,"v":1.48},{"s":"Helios 1 Flat 1 0.6","g":1,"x":-11860,"v":1.44},{"s":"Helios 1 Flat 1 0.6","g":1,"x":-11550,"v":1.41},{"s":"Helios 1 Flat 1 0.6","g":1,"x":-11260,"v":1.39},{"s":"Helios 1 Flat 1 0.6","g":1,"x":-10840,"v":1.38},{"s":"Helios 1 Flat 1 0.6","g":1,"x":-10550,"v":1.38},{"s":"Helios 1 Flat 1 0.6","g":1,"x":-10240,"v":1.40},{"s":"Helios 1 Flat 1 0.6","g":1,"x":-9870,"v":1.43},{"s":"Helios 1 Flat 1 0.6","g":1,"x":-9530,"v":1.48},{"s":"Helios 1 Flat 1 0.6","g":1,"x":-9220,"v":1.51},{"s":"Helios 1 Flat 1 0.6","g":1,"x":-8820,"v":1.53},{"s":"Helios 1 Flat 1 0.6","g":1,"x":-8320,"v":1.53},{"s":"Helios 1 Flat 1 0.6","g":1,"x":-7810,"v":1.54},{"s":"Helios 1 Flat 1 0.6","g":1,"x":-7300,"v":1.55},{"s":"Helios 1 Flat 1 0.6","g":1,"x":-6900,"v":1.57},{"s":"Helios 1 Flat 1 0.6","g":1,"x":-6590,"v":1.61},{"s":"Helios 1 Flat 1 0.6","g":1,"x":-6390,"v":1.66},
      {"s":"Helios 1 Flat 1 0.6","g":2,"x":-5430,"v":1.66},{"s":"Helios 1 Flat 1 0.6","g":2,"x":-5170,"v":1.71},{"s":"Helios 1 Flat 1 0.6","g":2,"x":-4970,"v":1.82},{"s":"Helios 1 Flat 1 0.6","g":2,"x":-4770,"v":1.98},{"s":"Helios 1 Flat 1 0.6","g":2,"x":-4630,"v":2.11},{"s":"Helios 1 Flat 1 0.6","g":2,"x":-4490,"v":2.19},{"s":"Helios 1 Flat 1 0.6","g":2,"x":-4380,"v":2.27},{"s":"Helios 1 Flat 1 0.6","g":2,"x":-4180,"v":2.33},{"s":"Helios 1 Flat 1 0.6","g":2,"x":-3750,"v":2.36},{"s":"Helios 1 Flat 1 0.6","g":2,"x":-3240,"v":2.36},{"s":"Helios 1 Flat 1 0.6","g":2,"x":-2760,"v":2.39},{"s":"Helios 1 Flat 1 0.6","g":2,"x":-2250,"v":2.42},{"s":"Helios 1 Flat 1 0.6","g":2,"x":-1830,"v":2.46},{"s":"Helios 1 Flat 1 0.6","g":2,"x":-1430,"v":2.50},{"s":"Helios 1 Flat 1 0.6","g":2,"x":-1120,"v":2.55},{"s":"Helios 1 Flat 1 0.6","g":2,"x":-640,"v":2.56},{"s":"Helios 1 Flat 1 0.6","g":2,"x":-210,"v":2.57},{"s":"Helios 1 Flat 1 0.6","g":2,"x":70,"v":2.60},{"s":"Helios 1 Flat 1 0.6","g":2,"x":410,"v":2.63},{"s":"Helios 1 Flat 1 0.6","g":2,"x":720,"v":2.64},{"s":"Helios 1 Flat 1 0.6","g":2,"x":1010,"v":2.60},{"s":"Helios 1 Flat 1 0.6","g":2,"x":1430,"v":2.56},{"s":"Helios 1 Flat 1 0.6","g":2,"x":1830,"v":2.54},{"s":"Helios 1 Flat 1 0.6","g":2,"x":2080,"v":2.52},{"s":"Helios 1 Flat 1 0.6","g":2,"x":2280,"v":2.46},{"s":"Helios 1 Flat 1 0.6","g":2,"x":2540,"v":2.38},{"s":"Helios 1 Flat 1 0.6","g":2,"x":2730,"v":2.29},{"s":"Helios 1 Flat 1 0.6","g":2,"x":2850,"v":2.14},{"s":"Helios 1 Flat 1 0.6","g":2,"x":2930,"v":2.01},{"s":"Helios 1 Flat 1 0.6","g":2,"x":3070,"v":1.95},{"s":"Helios 1 Flat 1 0.6","g":2,"x":3330,"v":1.91},{"s":"Helios 1 Flat 1 0.6","g":2,"x":3640,"v":1.90},{"s":"Helios 1 Flat 1 0.6","g":2,"x":4150,"v":1.90},
      {"s":"Helios 1 Flat 1 0.6","g":3,"x":5110,"v":1.89},{"s":"Helios 1 Flat 1 0.6","g":3,"x":5370,"v":1.95},{"s":"Helios 1 Flat 1 0.6","g":3,"x":5680,"v":2.01},{"s":"Helios 1 Flat 1 0.6","g":3,"x":5880,"v":2.14},{"s":"Helios 1 Flat 1 0.6","g":3,"x":6160,"v":2.26},{"s":"Helios 1 Flat 1 0.6","g":3,"x":6470,"v":2.33},{"s":"Helios 1 Flat 1 0.6","g":3,"x":6780,"v":2.38},{"s":"Helios 1 Flat 1 0.6","g":3,"x":6980,"v":2.40},{"s":"Helios 1 Flat 1 0.6","g":3,"x":7800,"v":2.40},{"s":"Helios 1 Flat 1 0.6","g":3,"x":8090,"v":2.38},{"s":"Helios 1 Flat 1 0.6","g":3,"x":8400,"v":2.29},{"s":"Helios 1 Flat 1 0.6","g":3,"x":8600,"v":2.18},{"s":"Helios 1 Flat 1 0.6","g":3,"x":8800,"v":2.09},{"s":"Helios 1 Flat 1 0.6","g":3,"x":9110,"v":1.97},{"s":"Helios 1 Flat 1 0.6","g":3,"x":9420,"v":1.90},{"s":"Helios 1 Flat 1 0.6","g":3,"x":9700,"v":1.86},{"s":"Helios 1 Flat 1 0.6","g":3,"x":10010,"v":1.82},{"s":"Helios 1 Flat 1 0.6","g":3,"x":10330,"v":1.77},{"s":"Helios 1 Flat 1 0.6","g":3,"x":10640,"v":1.73},{"s":"Helios 1 Flat 1 0.6","g":3,"x":10920,"v":1.68},{"s":"Helios 1 Flat 1 0.6","g":3,"x":11040,"v":1.66},
      {"s":"Helios 1 Flat 1 0.6","g":4,"x":12000,"v":1.67},{"s":"Helios 1 Flat 1 0.6","g":4,"x":12200,"v":1.60},{"s":"Helios 1 Flat 1 0.6","g":4,"x":12390,"v":1.57},{"s":"Helios 1 Flat 1 0.6","g":4,"x":12650,"v":1.55},{"s":"Helios 1 Flat 1 0.6","g":4,"x":12960,"v":1.50},{"s":"Helios 1 Flat 1 0.6","g":4,"x":13360,"v":1.47},{"s":"Helios 1 Flat 1 0.6","g":4,"x":13750,"v":1.45},{"s":"Helios 1 Flat 1 0.6","g":4,"x":14260,"v":1.45},{"s":"Helios 1 Flat 1 0.6","g":4,"x":14660,"v":1.46},{"s":"Helios 1 Flat 1 0.6","g":4,"x":15000,"v":1.47}
    ],
    "legend": [
      {"s":"Ulysses Polar 1","x":-14730,"v":4.188},
      {"s":"Ulysses Polar 2","x":-14730,"v":3.931},
      {"s":"Flat 5","x":-8740,"v":4.188},
      {"s":"Flat 15","x":-8740,"v":3.931},
      {"s":"Flat 25","x":-8740,"v":3.690},
      {"s":"Flat 33","x":-8740,"v":3.464},
      {"s":"Flat 39","x":-8740,"v":3.252},
      {"s":"Helios 1 Flat 1 0.6","x":-5710,"v":4.188},
      {"s":"Helios 1 Flat 2 0.3","x":-5710,"v":3.931},
      {"s":"Helios 2 Flat 5 0.3","x":-5710,"v":3.690}
    ],
    "span": [{"x":-15000,"x2":15000,"v":0.945}],
    "heads": [{"dir":"left","x":-15000,"v":0.945},{"dir":"right","x":15000,"v":0.945}],
    "note": [{"label":"supergranule","x":440,"v":0.970}]
  },
  "layer": [
    {
      "data": {"name": "lines"},
      "transform": [{"filter": "datum.s !== 'Helios 1 Flat 1 0.6'"}],
      "mark": {"type": "line", "strokeWidth": 2.6},
      "encoding": {
        "x": {"field": "x", "type": "quantitative", "scale": {"domain": [-15000, 15000], "nice": false, "zero": false},
          "axis": {"orient": "bottom", "values": [-15000,-14000,-13000,-12000,-11000,-10000,-9000,-8000,-7000,-6000,-5000,-4000,-3000,-2000,-1000,0,1000,2000,3000,4000,5000,6000,7000,8000,9000,10000,11000,12000,13000,14000,15000],
            "labelExpr": "datum.value % 5000 === 0 ? '' + datum.value : ''", "labelOverlap": false, "labelFlush": false,
            "domain": false, "grid": false, "tickSize": -4, "tickColor": "#555555", "tickWidth": 1,
            "labelFontSize": 15, "labelFontWeight": "bold", "labelColor": "#000000", "labelPadding": 9,
            "title": "distance along photosphere\u00a0\u00a0\u00a0\u00a0\u00a0[km]", "titleFontSize": 24, "titleFontWeight": "bold", "titleColor": "#000000",
            "titleBaseline": "alphabetic", "titleY": 41}},
        "y": {"field": "v", "type": "quantitative", "scale": {"type": "log", "domain": [0.9, 4.5], "nice": false},
          "axis": {"orient": "left", "values": [1, 2, 3, 4], "format": "d", "domain": false, "grid": false, "tickSize": -4, "tickColor": "#555555",
            "labelFontSize": 14, "labelFontWeight": "bold", "labelColor": "#000000", "labelPadding": 9,
            "title": "B\u2098\u2090g / n\u209a\u00a0\u00a0\u00a0[nT cm\u00b3]", "titleFontSize": 25, "titleFontWeight": "bold", "titleColor": "#000000",
            "titleAngle": -90, "titleBaseline": "alphabetic", "titleAlign": "center", "titleX": -34, "titleY": 276}},
        "color": {"field": "s", "type": "nominal",
          "scale": {"domain": ["Ulysses Polar 1","Ulysses Polar 2","Flat 5","Flat 15","Flat 25","Flat 33","Flat 39","Helios 1 Flat 1 0.6","Helios 1 Flat 2 0.3","Helios 2 Flat 5 0.3"],
                    "range": ["#ff0000","#ff8a1c","#9a28d4","#0a0ac4","#1cc0f6","#127d12","#33ea2a","#3678f6","#000000","#a4a4a4"]},
          "legend": null}
      }
    },
    {
      "data": {"name": "lines"},
      "transform": [{"filter": "datum.s === 'Helios 1 Flat 1 0.6'"}],
      "mark": {"type": "line", "strokeWidth": 5.5, "strokeCap": "round", "strokeJoin": "round"},
      "encoding": {
        "x": {"field": "x", "type": "quantitative", "scale": {"domain": [-15000, 15000], "nice": false, "zero": false},
          "axis": {"orient": "top", "values": [-15000,-14000,-13000,-12000,-11000,-10000,-9000,-8000,-7000,-6000,-5000,-4000,-3000,-2000,-1000,0,1000,2000,3000,4000,5000,6000,7000,8000,9000,10000,11000,12000,13000,14000,15000],
            "labels": false, "domain": false, "grid": false, "tickSize": -4, "tickColor": "#555555", "title": null}},
        "y": {"field": "v", "type": "quantitative", "scale": {"type": "log", "domain": [0.9, 4.5], "nice": false},
          "axis": {"orient": "right", "values": [1, 2, 3, 4], "labels": false, "domain": false, "grid": false, "tickSize": -4, "tickColor": "#555555", "title": null}},
        "detail": {"field": "g", "type": "nominal"},
        "color": {"field": "s", "type": "nominal",
          "scale": {"domain": ["Ulysses Polar 1","Ulysses Polar 2","Flat 5","Flat 15","Flat 25","Flat 33","Flat 39","Helios 1 Flat 1 0.6","Helios 1 Flat 2 0.3","Helios 2 Flat 5 0.3"],
                    "range": ["#ff0000","#ff8a1c","#9a28d4","#0a0ac4","#1cc0f6","#127d12","#33ea2a","#3678f6","#000000","#a4a4a4"]},
          "legend": null}
      }
    },
    {
      "data": {"name": "span"},
      "mark": {"type": "rule", "strokeWidth": 3, "color": "#e31c5c"},
      "encoding": {
        "x": {"field": "x", "type": "quantitative", "scale": {"domain": [-15000, 15000], "nice": false, "zero": false}, "axis": null},
        "x2": {"field": "x2"},
        "y": {"field": "v", "type": "quantitative", "scale": {"type": "log", "domain": [0.9, 4.5], "nice": false}, "axis": null}
      }
    },
    {
      "data": {"name": "heads"},
      "mark": {"type": "point", "filled": false, "strokeWidth": 3, "size": 700, "color": "#e31c5c", "opacity": 1, "strokeCap": "round"},
      "encoding": {
        "x": {"field": "x", "type": "quantitative", "scale": {"domain": [-15000, 15000], "nice": false, "zero": false}, "axis": null},
        "y": {"field": "v", "type": "quantitative", "scale": {"type": "log", "domain": [0.9, 4.5], "nice": false}, "axis": null},
        "shape": {"field": "dir", "type": "nominal", "scale": {"domain": ["left", "right"], "range": ["M1,-0.45L0,0L1,0.45", "M-1,-0.45L0,0L-1,0.45"]}, "legend": null}
      }
    },
    {
      "data": {"name": "note"},
      "mark": {"type": "text", "align": "center", "baseline": "alphabetic", "fontSize": 24, "fontWeight": "bold", "color": "#e31c5c"},
      "encoding": {
        "x": {"field": "x", "type": "quantitative", "scale": {"domain": [-15000, 15000], "nice": false, "zero": false}, "axis": null},
        "y": {"field": "v", "type": "quantitative", "scale": {"type": "log", "domain": [0.9, 4.5], "nice": false}, "axis": null},
        "text": {"field": "label"}
      }
    },
    {
      "data": {"name": "legend"},
      "mark": {"type": "text", "align": "left", "baseline": "alphabetic", "fontSize": 22, "fontWeight": "bold"},
      "encoding": {
        "x": {"field": "x", "type": "quantitative", "scale": {"domain": [-15000, 15000], "nice": false, "zero": false}, "axis": null},
        "y": {"field": "v", "type": "quantitative", "scale": {"type": "log", "domain": [0.9, 4.5], "nice": false}, "axis": null},
        "text": {"field": "s"},
        "color": {"field": "s", "type": "nominal",
          "scale": {"domain": ["Ulysses Polar 1","Ulysses Polar 2","Flat 5","Flat 15","Flat 25","Flat 33","Flat 39","Helios 1 Flat 1 0.6","Helios 1 Flat 2 0.3","Helios 2 Flat 5 0.3"],
                    "range": ["#ff0000","#ff8a1c","#9a28d4","#0a0ac4","#1cc0f6","#127d12","#33ea2a","#3678f6","#000000","#a4a4a4"]},
          "legend": null}
      }
    }
  ]
}
